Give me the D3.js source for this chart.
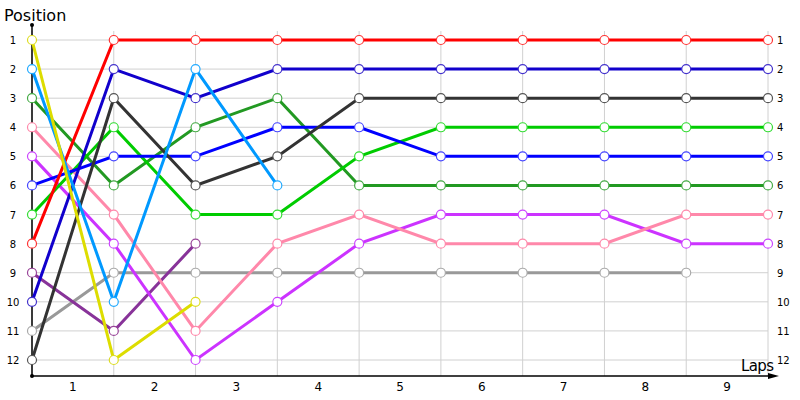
<!DOCTYPE html>
<html>
<head>
<meta charset="UTF-8">
<title>Lap chart</title>
<script src="https://d3js.org/d3.v7.min.js"></script>
<style>
  body { margin: 0; background: #fff; }
  text { font-family: Tahoma, "DejaVu Sans", sans-serif; fill: #000; }
</style>
</head>
<body>
<svg width="800" height="400"></svg>
<script>
// positions at each lap boundary (0 = start ... 9 = finish), null = out
const lapLabels = [1, 2, 3, 4, 5, 6, 7, 8, 9];
const positions = [1, 2, 3, 4, 5, 6, 7, 8, 9, 10, 11, 12];

const red        = [8, 1, 1, 1, 1, 1, 1, 1, 1, 1];
const darkBlue   = [10, 2, 3, 2, 2, 2, 2, 2, 2, 2];
const darkGray   = [12, 3, 6, 5, 3, 3, 3, 3, 3, 3];
const green      = [7, 4, 7, 7, 5, 4, 4, 4, 4, 4];
const blue       = [6, 5, 5, 4, 4, 5, 5, 5, 5, 5];
const darkGreen  = [3, 6, 4, 3, 6, 6, 6, 6, 6, 6];
const pink       = [4, 7, 11, 8, 7, 8, 8, 8, 7, 7];
const magenta    = [5, 8, 12, 10, 8, 7, 7, 7, 8, 8];
const lightBlue  = [2, 10, 2, 6, null, null, null, null, null, null];
const gray       = [11, 9, 9, 9, 9, 9, 9, 9, 9, null];
const purple     = [9, 11, 8, null, null, null, null, null, null, null];
const yellow     = [1, 12, 10, null, null, null, null, null, null, null];

const series = [
  { values: gray,      color: "#999999", dot: "#aaaaaa" },
  { values: purple,    color: "#883399", dot: "#994499" },
  { values: magenta,   color: "#cc33ff", dot: "#cc44ff" },
  { values: pink,      color: "#ff88aa", dot: "#ff88aa" },
  { values: darkGreen, color: "#229922", dot: "#44aa44" },
  { values: green,     color: "#00cc00", dot: "#33dd33" },
  { values: blue,      color: "#0000ff", dot: "#4444ff" },
  { values: darkGray,  color: "#333333", dot: "#555555" },
  { values: darkBlue,  color: "#1100cc", dot: "#4433cc" },
  { values: red,       color: "#ff0000", dot: "#ff3333" },
  { values: lightBlue, color: "#0099ff", dot: "#22aaff" },
  { values: yellow,    color: "#dddd00", dot: "#dddd22" }
];

const svg = d3.select("svg");
const x = d3.scaleLinear().domain([0, 9]).range([32, 768]);
const y = d3.scaleLinear().domain([1, 12]).range([40, 360]);
const axisY = 376;

// grid
svg.append("g").selectAll("line").data(d3.range(0, 10)).join("line")
  .attr("x1", d => x(d)).attr("x2", d => x(d))
  .attr("y1", 31).attr("y2", axisY)
  .attr("stroke", "#d0d0d0").attr("stroke-width", 1);
svg.append("g").selectAll("line").data(positions).join("line")
  .attr("x1", x(0)).attr("x2", x(9))
  .attr("y1", d => y(d)).attr("y2", d => y(d))
  .attr("stroke", "#d0d0d0").attr("stroke-width", 1);

// axes
svg.append("line").attr("x1", x(0)).attr("x2", 770).attr("y1", axisY).attr("y2", axisY)
  .attr("stroke", "#000").attr("stroke-width", 1.5);
svg.append("path").attr("d", `M768,${axisY - 3} L779,${axisY} L768,${axisY + 3} Z`).attr("fill", "#000");
svg.append("line").attr("x1", x(0)).attr("x2", x(0)).attr("y1", axisY).attr("y2", 25)
  .attr("stroke", "#000").attr("stroke-width", 1.5);
svg.append("circle").attr("cx", x(0)).attr("cy", 25).attr("r", 2).attr("fill", "#000");
svg.append("circle").attr("cx", x(0)).attr("cy", axisY).attr("r", 2).attr("fill", "#000");

// tick labels
svg.append("g").selectAll("text").data(positions).join("text")
  .attr("x", 13).attr("y", d => y(d) + 4).attr("text-anchor", "middle")
  .attr("font-size", 10).text(d => d);
svg.append("g").selectAll("text").data(positions).join("text")
  .attr("x", 777).attr("y", d => y(d) + 4)
  .attr("font-size", 10).text(d => d);
svg.append("g").selectAll("text").data(lapLabels).join("text")
  .attr("x", d => x(d - 0.5)).attr("y", 391).attr("text-anchor", "middle")
  .attr("font-size", 12).text(d => d);

svg.append("text").attr("x", 4).attr("y", 21).attr("font-size", 16).text("Position");
svg.append("text").attr("x", 741).attr("y", 371).attr("font-size", 15)
  .attr("textLength", 33).text("Laps");

// lines
const line = d3.line()
  .defined(d => d != null)
  .x((d, i) => x(i))
  .y(d => y(d));

svg.append("g").selectAll("path").data(series).join("path")
  .attr("d", s => line(s.values))
  .attr("fill", "none")
  .attr("stroke", s => s.color)
  .attr("stroke-width", 3);

// markers
series.forEach(s => {
  svg.append("g").selectAll("circle")
    .data(s.values.map((v, i) => ({ v, i })).filter(d => d.v != null))
    .join("circle")
    .attr("cx", d => x(d.i)).attr("cy", d => y(d.v)).attr("r", 4.5)
    .attr("fill", "#fff").attr("stroke", s.dot).attr("stroke-width", 1.2);
});
</script>
</body>
</html>
